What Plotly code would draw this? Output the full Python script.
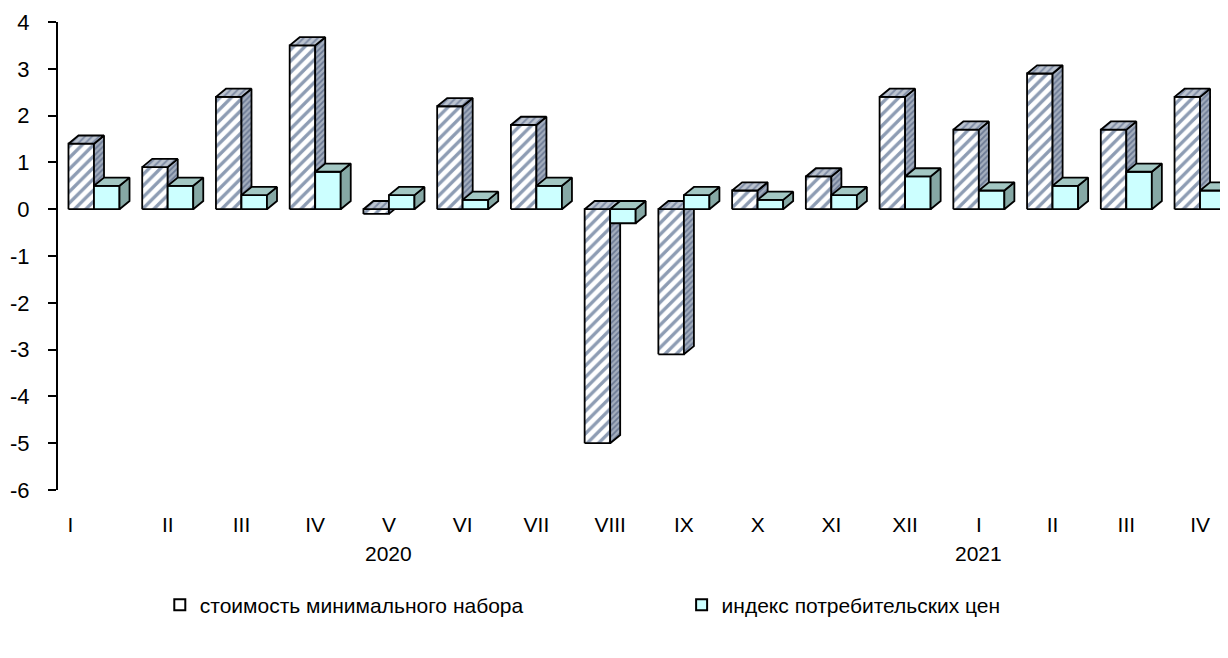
import plotly.graph_objects as go

# ---- data ----
months = ["I", "II", "III", "IV", "V", "VI", "VII", "VIII", "IX", "X", "XI", "XII",
          "I", "II", "III", "IV"]
years = ["2020", "2021"]
year_label_idx = [4, 12]
min_basket = [1.4, 0.9, 2.4, 3.5, -0.1, 2.2, 1.8, -5.0, -3.1, 0.4, 0.7, 2.4,
              1.7, 2.9, 1.7, 2.4]
cpi = [0.5, 0.5, 0.3, 0.8, 0.3, 0.2, 0.5, -0.3, 0.3, 0.2, 0.3, 0.7,
       0.4, 0.5, 0.8, 0.4]
names = ["стоимость минимального набора", "индекс потребительских цен"]
y_ticks = [-6, -5, -4, -3, -2, -1, 0, 1, 2, 3, 4]

# ---- geometry of the pseudo-3D bars (in axis units) ----
W = 0.346   # bar front width
DX = 0.136  # depth offset x
DY = 0.175  # depth offset y

FONT = "Arial, Liberation Sans, sans-serif"


def faces(values, offset):
    fx, fy, sx, sy, tx, ty = [], [], [], [], [], []
    for i, v in enumerate(values):
        x0 = i + offset
        x1 = x0 + W
        lo, hi = min(0, v), max(0, v)
        fx += [x0, x1, x1, x0, x0, None]
        fy += [lo, lo, hi, hi, lo, None]
        sx += [x1, x1 + DX, x1 + DX, x1, x1, None]
        sy += [lo, lo + DY, hi + DY, hi, lo, None]
        tx += [x0, x1, x1 + DX, x0 + DX, x0, None]
        ty += [hi, hi, hi + DY, hi + DY, hi, None]
    return (fx, fy), (sx, sy), (tx, ty)


fig = go.Figure()
line = dict(color="black", width=1.8)

# series 1 (hatched)
f, s, t = faces(min_basket, -W)
fig.add_trace(go.Scatter(x=f[0], y=f[1], fill="toself", mode="lines", line=line,
                         fillpattern=dict(shape="/", fgcolor="#1C3A68", bgcolor="white",
                                          size=8, solidity=0.42),
                         showlegend=False, hoverinfo="skip"))
fig.add_trace(go.Scatter(x=s[0], y=s[1], fill="toself", mode="lines", line=line,
                         fillpattern=dict(shape="/", fgcolor="#34456A", bgcolor="#A4AEBE",
                                          size=4, solidity=0.45),
                         showlegend=False, hoverinfo="skip"))
fig.add_trace(go.Scatter(x=t[0], y=t[1], fill="toself", mode="lines", line=line,
                         fillpattern=dict(shape="/", fgcolor="#44557A", bgcolor="#BCC4D0",
                                          size=5, solidity=0.4),
                         showlegend=False, hoverinfo="skip"))

# series 2 (light cyan)
f, s, t = faces(cpi, 0.0)
fig.add_trace(go.Scatter(x=f[0], y=f[1], fill="toself", mode="lines", line=line,
                         fillcolor="#CCFFFF", showlegend=False, hoverinfo="skip"))
fig.add_trace(go.Scatter(x=s[0], y=s[1], fill="toself", mode="lines", line=line,
                         fillcolor="#86A8A5", showlegend=False, hoverinfo="skip"))
fig.add_trace(go.Scatter(x=t[0], y=t[1], fill="toself", mode="lines", line=line,
                         fillcolor="#A3C7C3", showlegend=False, hoverinfo="skip"))

# legend entries
fig.add_trace(go.Scatter(x=[None], y=[None], mode="markers", name=names[0],
                         marker=dict(symbol="square", size=11, color="white",
                                     line=dict(color="black", width=2)),
                         legend="legend"))
fig.add_trace(go.Scatter(x=[None], y=[None], mode="markers", name=names[1],
                         marker=dict(symbol="square", size=11, color="#CCFFFF",
                                     line=dict(color="black", width=2)),
                         legend="legend2"))

tickvals = [i - 0.32 if i == 0 else i for i in range(len(months))]

for yr, idx in zip(years, year_label_idx):
    fig.add_annotation(x=idx, y=-0.135, xref="x", yref="paper", text=yr,
                       showarrow=False, font=dict(family=FONT, size=21, color="black"),
                       yanchor="middle")

fig.update_layout(
    width=1220, height=650,
    margin=dict(l=50, r=0, t=14, b=168),
    paper_bgcolor="white", plot_bgcolor="white",
    font=dict(family=FONT, size=21, color="black"),
    xaxis=dict(range=[-0.488, 15.379], tickvals=tickvals, ticktext=months,
               showgrid=False, zeroline=False, showline=False, ticks="",
               ticklabelstandoff=20, tickfont=dict(size=21)),
    yaxis=dict(range=[-6, 4], tickvals=y_ticks, ticktext=[str(v) for v in y_ticks],
               showgrid=False, zeroline=False,
               showline=True, linecolor="black", linewidth=2,
               ticks="outside", ticklen=8, tickwidth=1.5, tickcolor="black",
               ticklabelstandoff=14, tickfont=dict(size=22)),
    legend=dict(orientation="h", x=0.087, y=-0.246, xanchor="left", yanchor="middle",
                font=dict(size=21), itemwidth=30, bgcolor="rgba(0,0,0,0)"),
    legend2=dict(orientation="h", x=0.533, y=-0.246, xanchor="left", yanchor="middle",
                 font=dict(size=21), itemwidth=30, bgcolor="rgba(0,0,0,0)"),
)

fig.write_html("out.html")
